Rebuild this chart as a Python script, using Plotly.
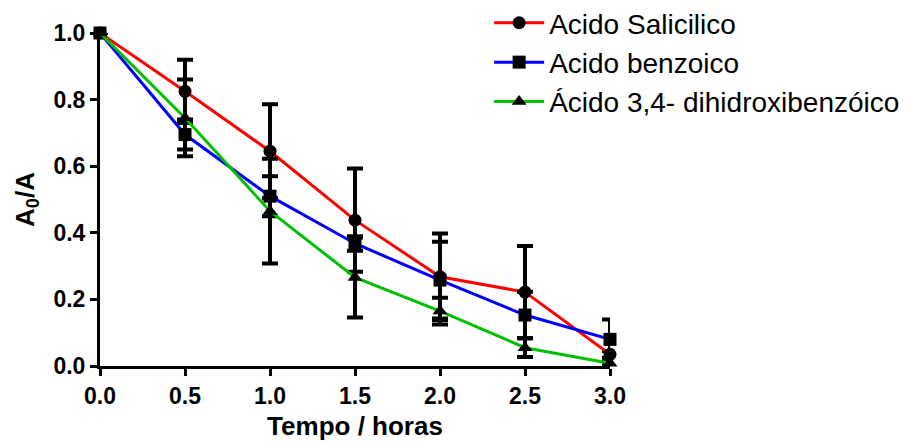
import plotly.graph_objects as go

# Absorbance ratio A0/A versus time for three acids
tempo = [0.0, 0.5, 1.0, 1.5, 2.0, 2.5, 3.0]

salicilico = [1.0, 0.825, 0.645, 0.438, 0.268, 0.222, 0.035]
salicilico_err = [0.0, 0.095, 0.141, 0.155, 0.130, 0.138, 0.010]

benzoico = [1.0, 0.695, 0.510, 0.368, 0.258, 0.153, 0.080]
benzoico_err = [0.0, 0.045, 0.060, 0.022, 0.115, 0.070, 0.060]

dihidroxi = [1.0, 0.745, 0.465, 0.266, 0.165, 0.055, 0.008]
dihidroxi_err = [0.0, 0.115, 0.157, 0.120, 0.040, 0.028, 0.005]

series_names = ["Acido Salicilico", "Acido benzoico", "Ácido 3,4- dihidroxibenzóico"]
line_colors = ["#FF0000", "#0000FF", "#00C000"]
symbols = ["circle", "square", "triangle-up"]

FONT = "Liberation Sans, Arial, sans-serif"

fig = go.Figure()
for name, ys, errs, color, sym in zip(
    series_names,
    [salicilico, benzoico, dihidroxi],
    [salicilico_err, benzoico_err, dihidroxi_err],
    line_colors,
    symbols,
):
    fig.add_trace(
        go.Scatter(
            x=tempo,
            y=ys,
            name=name,
            mode="lines+markers",
            line=dict(color=color, width=3),
            marker=dict(symbol=sym, size=13, color="black"),
            error_y=dict(
                type="data",
                array=errs,
                visible=True,
                color="black",
                thickness=4,
                width=8,
            ),
            cliponaxis=False,
        )
    )

axis_common = dict(
    showline=True,
    linecolor="black",
    linewidth=3,
    ticks="outside",
    ticklen=7,
    tickwidth=3,
    tickcolor="black",
    showgrid=False,
    zeroline=False,
    tickformat=".1f",
    tickfont=dict(family=FONT, size=23, color="black", weight="bold"),
)

fig.update_xaxes(
    range=[0, 3],
    tickvals=tempo,
    title=dict(
        text="Tempo / horas",
        font=dict(family=FONT, size=26, color="black", weight="bold"),
        standoff=10,
    ),
    **axis_common,
)
fig.update_yaxes(
    range=[0, 1.0],
    tickvals=[0.0, 0.2, 0.4, 0.6, 0.8, 1.0],
    title=dict(
        text="A<sub>0</sub>/A",
        font=dict(family=FONT, size=26, color="black", weight="bold"),
        standoff=12,
    ),
    **axis_common,
)

fig.update_layout(
    width=906,
    height=444,
    margin=dict(l=100, r=296, t=33, b=78, autoexpand=False),
    plot_bgcolor="white",
    paper_bgcolor="white",
    showlegend=True,
    legend=dict(
        x=0.763,
        y=1.105,
        xanchor="left",
        yanchor="top",
        bgcolor="rgba(0,0,0,0)",
        font=dict(family=FONT, size=28, color="black"),
        itemwidth=50,
        tracegroupgap=2,
    ),
)

fig.write_html("out.html")
